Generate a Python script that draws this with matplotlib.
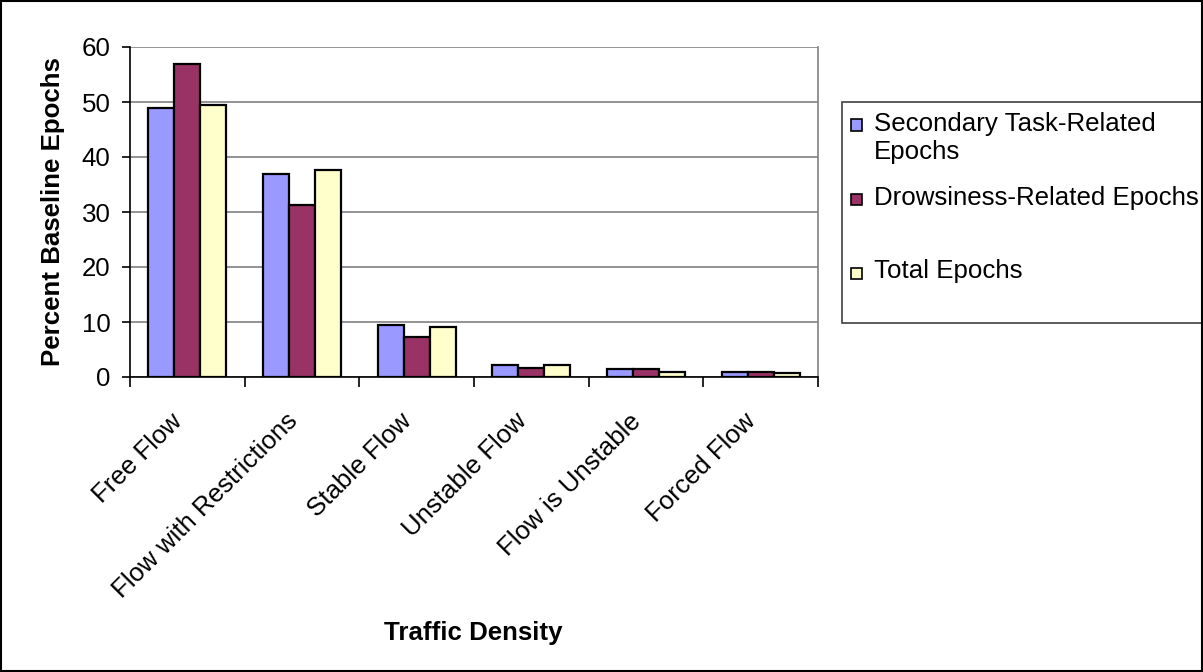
import numpy as np
import matplotlib.pyplot as plt
from matplotlib.patches import Rectangle

plt.rcParams['font.family'] = ['Liberation Sans', 'DejaVu Sans']

# data
categories = ['Free Flow', 'Flow with Restrictions', 'Stable Flow',
              'Unstable Flow', 'Flow is Unstable', 'Forced Flow']
secondary = [49.0, 37.0, 9.4, 2.2, 1.4, 1.0]
drowsiness = [57.0, 31.2, 7.2, 1.7, 1.4, 1.0]
total = [49.4, 37.7, 9.1, 2.2, 1.0, 0.7]

series = [secondary, drowsiness, total]
labels = ['Secondary Task-Related\nEpochs', 'Drowsiness-Related Epochs', 'Total Epochs']
colors = ['#9999FF', '#993366', '#FFFFCC']

W, H = 1203, 672
fs = 18.6
fig = plt.figure(figsize=(W / 100, H / 100), dpi=100)
ax = fig.add_axes([130 / W, 1 - 377 / H, (818 - 130) / W, (377 - 47) / H])

x = np.arange(len(categories))
bw = 0.226
for i, (vals, col) in enumerate(zip(series, colors)):
    ax.bar(x + (i - 1) * bw, vals, bw, color=col, edgecolor='black', linewidth=1.6, zorder=3)

ax.set_xlim(-0.5, len(categories) - 0.5)
ax.set_ylim(0, 60)
ax.set_yticks(range(0, 61, 10))
ax.yaxis.grid(True, color='#808080', linewidth=1.2, zorder=0)
ax.tick_params(axis='y', labelsize=fs, length=6, width=1.2, pad=8, direction='out')

ax.set_xticks(x)
ax.set_xticklabels(categories, rotation=45, ha='right', va='top', fontsize=fs)
ax.tick_params(axis='x', length=0, pad=23)
ax.set_xticks(np.arange(-0.5, len(categories)), minor=True)
ax.tick_params(axis='x', which='minor', length=7, width=1.2, direction='out')

for s in ['left', 'bottom']:
    ax.spines[s].set_color('black')
    ax.spines[s].set_linewidth(1.2)
ax.spines['top'].set_visible(False)
ax.spines['right'].set_color('#808080')
ax.spines['right'].set_linewidth(1.2)

ax.set_ylabel('Percent Baseline Epochs', fontsize=fs, fontweight='bold', labelpad=12)
fig.text(473 / W, 1 - 633 / H, 'Traffic Density', fontsize=fs, fontweight='bold',
         ha='center', va='center')

# legend box (drawn by hand to keep Excel-like spacing)
fig.add_artist(Rectangle((842 / W, 1 - 323 / H), (W + 10 - 842) / W, (323 - 102) / H,
                         transform=fig.transFigure, facecolor='white',
                         edgecolor='#404040', linewidth=1.2))
marker_y = [125, 199.5, 273.5]
text_y = [138, 198, 271]
for lab, col, my, ty in zip(labels, colors, marker_y, text_y):
    fig.add_artist(Rectangle((851 / W, 1 - (my + 5.5) / H), 11 / W, 11 / H,
                             transform=fig.transFigure, facecolor=col,
                             edgecolor='black', linewidth=1.2))
    fig.text(874 / W, 1 - ty / H, lab, fontsize=fs, ha='left', va='center',
             linespacing=1.25)

# outer border
fig.add_artist(Rectangle((0.0008, 0.0015), 0.9984, 0.997, transform=fig.transFigure,
                         fill=False, edgecolor='black', linewidth=1.5))

fig.savefig('out.png', dpi=100)
